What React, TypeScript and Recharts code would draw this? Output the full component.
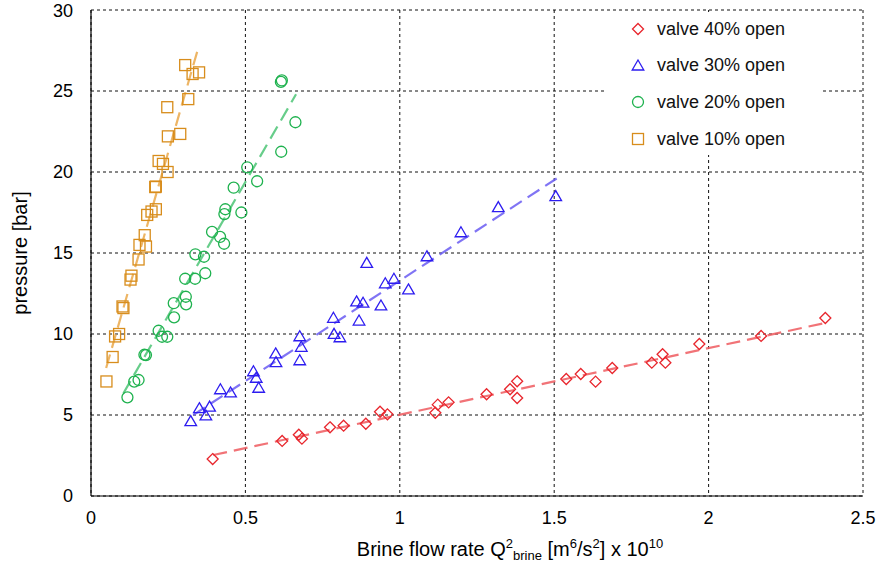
import React from "react";
import {
  ScatterChart,
  Scatter,
  XAxis,
  YAxis,
  CartesianGrid,
} from "recharts";

// measured points: [flow rate Q² (x 10^10 m⁶/s²), pressure (bar)]
const valve40: [number, number][] = [
  [0.394, 2.28], [0.619, 3.4], [0.673, 3.78], [0.683, 3.54], [0.774, 4.24],
  [0.818, 4.34], [0.89, 4.46], [0.936, 5.2], [0.96, 5.04], [1.115, 5.14],
  [1.123, 5.64], [1.158, 5.78], [1.281, 6.28], [1.357, 6.59], [1.38, 7.08],
  [1.38, 6.05], [1.539, 7.22], [1.586, 7.53], [1.634, 7.06], [1.688, 7.9],
  [1.816, 8.23], [1.851, 8.75], [1.86, 8.23], [1.97, 9.38], [2.17, 9.88],
  [2.378, 10.99],
];

const valve30: [number, number][] = [
  [0.323, 4.59], [0.351, 5.39], [0.372, 4.94], [0.384, 5.49], [0.419, 6.56],
  [0.452, 6.36], [0.526, 7.67], [0.535, 7.27], [0.543, 6.65], [0.598, 8.77],
  [0.599, 8.23], [0.676, 9.83], [0.681, 9.18], [0.676, 8.35], [0.785, 10.97],
  [0.787, 9.98], [0.806, 9.77], [0.868, 10.8], [0.86, 11.98], [0.881, 11.9],
  [0.939, 11.73], [0.893, 14.36], [0.953, 13.1], [0.981, 13.38], [1.028, 12.72],
  [1.088, 14.77], [1.198, 16.25], [1.319, 17.8], [1.505, 18.48],
];

const valve20: [number, number][] = [
  [0.118, 6.09], [0.14, 7.06], [0.154, 7.16], [0.173, 8.72], [0.178, 8.7],
  [0.219, 10.2], [0.23, 9.83], [0.247, 9.83], [0.269, 11.03], [0.268, 11.9],
  [0.307, 12.3], [0.308, 11.83], [0.305, 13.41], [0.337, 13.41], [0.37, 13.75],
  [0.338, 14.92], [0.366, 14.77], [0.392, 16.3], [0.418, 15.99], [0.431, 15.57],
  [0.432, 17.4], [0.435, 17.7], [0.487, 17.5], [0.462, 19.03], [0.538, 19.43],
  [0.506, 20.29], [0.616, 21.25], [0.662, 23.07], [0.615, 25.56], [0.618, 25.65],
];

const valve10: [number, number][] = [
  [0.05, 7.07], [0.07, 8.58], [0.078, 9.85], [0.091, 10.0], [0.102, 11.7],
  [0.105, 11.6], [0.128, 13.36], [0.131, 13.6], [0.154, 14.6], [0.157, 15.5],
  [0.178, 15.4], [0.174, 16.1], [0.182, 17.35], [0.196, 17.56], [0.21, 17.7],
  [0.208, 19.07], [0.21, 19.1], [0.219, 20.68], [0.233, 20.5], [0.248, 20.0],
  [0.249, 22.2], [0.289, 22.35], [0.247, 24.0], [0.315, 24.5], [0.305, 26.6],
  [0.329, 26.05], [0.35, 26.15],
];

// fitted trend lines (start and end points)
const fit40: [number, number][] = [[0.396, 2.53], [2.382, 10.7]];
const fit30: [number, number][] = [[0.331, 5.0], [1.508, 19.6]];
const fit20: [number, number][] = [[0.105, 6.34], [0.664, 24.8]];
const fit10: [number, number][] = [[0.049, 7.9], [0.348, 27.7]];

const xTicks = [0, 0.5, 1, 1.5, 2, 2.5];
const yTicks = [0, 5, 10, 15, 20, 25, 30];

const toPoints = (arr: [number, number][]) => arr.map(([x, y]) => ({ x, y }));

const RED = "#e8262d";
const BLUE = "#2d1cf0";
const GREEN = "#1fb24f";
const ORANGE = "#d88d1c";

const FONT = "'Liberation Sans', Arial, sans-serif";
const SW = 1.3;

type MarkProps = { cx?: number; cy?: number; color: string };

const Diamond = ({ cx = 0, cy = 0, color }: MarkProps) => (
  <path
    d={`M${cx},${cy - 5.5}L${cx + 5.5},${cy}L${cx},${cy + 5.5}L${cx - 5.5},${cy}Z`}
    fill="none"
    stroke={color}
    strokeWidth={SW}
  />
);

const Triangle = ({ cx = 0, cy = 0, color }: MarkProps) => (
  <path
    d={`M${cx},${cy - 6}L${cx + 5.8},${cy + 4}L${cx - 5.8},${cy + 4}Z`}
    fill="none"
    stroke={color}
    strokeWidth={SW}
  />
);

const Circle = ({ cx = 0, cy = 0, color }: MarkProps) => (
  <circle cx={cx} cy={cy} r={5.5} fill="none" stroke={color} strokeWidth={SW} />
);

const Square = ({ cx = 0, cy = 0, color }: MarkProps) => (
  <rect x={cx - 5.5} y={cy - 5.5} width={11} height={11} fill="none" stroke={color} strokeWidth={SW} />
);

const NoMark = () => <g />;

const series = [
  { name: "valve 40% open", data: valve40, fit: fit40, color: RED, line: "#ef5a5f", Mark: Diamond },
  { name: "valve 30% open", data: valve30, fit: fit30, color: BLUE, line: "#6a5cf2", Mark: Triangle },
  { name: "valve 20% open", data: valve20, fit: fit20, color: GREEN, line: "#4cc476", Mark: Circle },
  { name: "valve 10% open", data: valve10, fit: fit10, color: ORANGE, line: "#eaa84a", Mark: Square },
];

const XTitle = (props: any) => {
  const vb = props.viewBox || { x: 91, y: 496, width: 772 };
  const cx = vb.x + vb.width / 2 + 33;
  return (
    <text x={cx} y={556} textAnchor="middle" fontFamily={FONT} fontSize={20} fill="#000">
      <tspan>Brine flow rate Q</tspan>
      <tspan fontSize={13} dy={-8}>2</tspan>
      <tspan fontSize={13} dy={12}>brine</tspan>
      <tspan dy={-4}> [m</tspan>
      <tspan fontSize={13} dy={-8}>6</tspan>
      <tspan dy={8}>/s</tspan>
      <tspan fontSize={13} dy={-8}>2</tspan>
      <tspan dy={8}>] x 10</tspan>
      <tspan fontSize={13} dy={-8}>10</tspan>
    </text>
  );
};

function LegendBox() {
  return (
    <div
      style={{
        position: "absolute",
        left: 607,
        top: 12,
        width: 215,
        height: 143,
        background: "#fff",
        fontFamily: FONT,
        fontSize: 18,
        color: "#111",
      }}
    >
      {series.map((s, i) => (
        <div
          key={s.name}
          style={{ position: "absolute", left: 0, top: 5 + i * 36.7, height: 24, display: "flex", alignItems: "center" }}
        >
          <svg width={16} height={16} style={{ marginLeft: 23 }}>
            <s.Mark cx={8} cy={8} color={s.color} />
          </svg>
          <span style={{ marginLeft: 11, whiteSpace: "nowrap" }}>{s.name}</span>
        </div>
      ))}
    </div>
  );
}

export default function App() {
  return (
    <div style={{ position: "absolute", left: 0, top: 0, width: 880, height: 570, background: "#fff" }}>
      <ScatterChart width={880} height={570} margin={{ top: 10, right: 17, bottom: 0, left: 0 }}>
        <CartesianGrid stroke="#111" strokeDasharray="3 3" strokeWidth={1} />
        <XAxis
          type="number"
          dataKey="x"
          domain={[0, 2.5]}
          ticks={xTicks}
          height={74}
          axisLine={{ stroke: "#000", strokeWidth: 1.2 }}
          tickLine={false}
          tickSize={0}
          tickMargin={15}
          tick={{ fill: "#000", fontSize: 18, fontFamily: FONT }}
          label={<XTitle />}
          allowDataOverflow
        />
        <YAxis
          type="number"
          dataKey="y"
          domain={[0, 30]}
          ticks={yTicks}
          width={91}
          axisLine={{ stroke: "#000", strokeWidth: 1.2 }}
          tickLine={false}
          tickSize={0}
          tickMargin={18}
          tick={{ fill: "#000", fontSize: 18, fontFamily: FONT }}
          label={{
            value: "pressure [bar]",
            angle: -90,
            position: "insideLeft",
            offset: 20,
            style: { fontSize: 20, fontFamily: FONT, fill: "#000", textAnchor: "middle" },
          }}
          allowDataOverflow
        />
        {series.map((s) => (
          <Scatter
            key={s.name + "-fit"}
            data={toPoints(s.fit)}
            line={{ stroke: s.line, strokeWidth: 2.2, strokeDasharray: "14 7", strokeOpacity: 0.85 }}
            shape={<NoMark />}
            isAnimationActive={false}
          />
        ))}
        {series.map((s) => (
          <Scatter
            key={s.name}
            name={s.name}
            data={toPoints(s.data)}
            shape={(p: any) => <s.Mark cx={p.cx} cy={p.cy} color={s.color} />}
            isAnimationActive={false}
          />
        ))}
      </ScatterChart>
      <LegendBox />
    </div>
  );
}
